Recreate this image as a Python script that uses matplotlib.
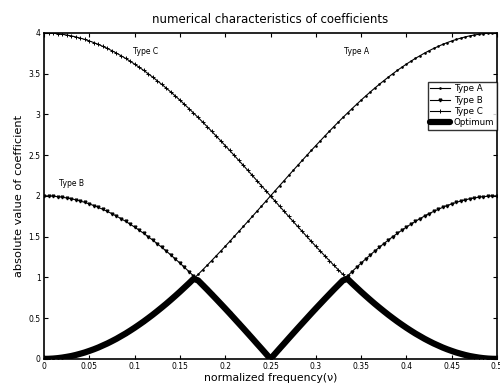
import matplotlib
matplotlib.use("Agg")
import matplotlib.pyplot as plt

# normalized frequency, step 0.005
freq = [i * 0.005 for i in range(101)]

type_a = [0.000, 0.001, 0.004, 0.009, 0.016, 0.025, 0.035, 0.048, 0.063, 0.079,
          0.098, 0.118, 0.140, 0.165, 0.190, 0.218, 0.247, 0.279, 0.311, 0.346,
          0.382, 0.420, 0.459, 0.500, 0.542, 0.586, 0.631, 0.677, 0.725, 0.774,
          0.824, 0.876, 0.928, 0.982, 1.036, 1.092, 1.148, 1.206, 1.264, 1.323,
          1.382, 1.442, 1.503, 1.564, 1.625, 1.687, 1.749, 1.812, 1.874, 1.937,
          2.000, 2.063, 2.126, 2.188, 2.251, 2.313, 2.375, 2.436, 2.497, 2.558,
          2.618, 2.677, 2.736, 2.794, 2.852, 2.908, 2.964, 3.018, 3.072, 3.124,
          3.176, 3.226, 3.275, 3.323, 3.369, 3.414, 3.458, 3.500, 3.541, 3.580,
          3.618, 3.654, 3.689, 3.721, 3.753, 3.782, 3.810, 3.835, 3.860, 3.882,
          3.902, 3.921, 3.937, 3.952, 3.965, 3.975, 3.984, 3.991, 3.996, 3.999,
          4.000]

type_b = [2.000, 1.999, 1.996, 1.991, 1.984, 1.975, 1.965, 1.952, 1.937, 1.921,
          1.902, 1.882, 1.860, 1.835, 1.810, 1.782, 1.753, 1.721, 1.689, 1.654,
          1.618, 1.580, 1.541, 1.500, 1.458, 1.414, 1.369, 1.323, 1.275, 1.226,
          1.176, 1.124, 1.072, 1.018, 0.964, 0.908, 0.852, 0.794, 0.736, 0.677,
          0.618, 0.558, 0.497, 0.436, 0.375, 0.313, 0.251, 0.188, 0.126, 0.063,
          0.000, 0.063, 0.126, 0.188, 0.251, 0.313, 0.375, 0.436, 0.497, 0.558,
          0.618, 0.677, 0.736, 0.794, 0.852, 0.908, 0.964, 1.018, 1.072, 1.124,
          1.176, 1.226, 1.275, 1.323, 1.369, 1.414, 1.458, 1.500, 1.541, 1.580,
          1.618, 1.654, 1.689, 1.721, 1.753, 1.782, 1.810, 1.835, 1.860, 1.882,
          1.902, 1.921, 1.937, 1.952, 1.965, 1.975, 1.984, 1.991, 1.996, 1.999,
          2.000]

type_c = [4.000, 3.999, 3.996, 3.991, 3.984, 3.975, 3.965, 3.952, 3.937, 3.921,
          3.902, 3.882, 3.860, 3.835, 3.810, 3.782, 3.753, 3.721, 3.689, 3.654,
          3.618, 3.580, 3.541, 3.500, 3.458, 3.414, 3.369, 3.323, 3.275, 3.226,
          3.176, 3.124, 3.072, 3.018, 2.964, 2.908, 2.852, 2.794, 2.736, 2.677,
          2.618, 2.558, 2.497, 2.436, 2.375, 2.313, 2.251, 2.188, 2.126, 2.063,
          2.000, 1.937, 1.874, 1.812, 1.749, 1.687, 1.625, 1.564, 1.503, 1.442,
          1.382, 1.323, 1.264, 1.206, 1.148, 1.092, 1.036, 0.982, 0.928, 0.876,
          0.824, 0.774, 0.725, 0.677, 0.631, 0.586, 0.542, 0.500, 0.459, 0.420,
          0.382, 0.346, 0.311, 0.279, 0.247, 0.218, 0.190, 0.165, 0.140, 0.118,
          0.098, 0.079, 0.063, 0.048, 0.035, 0.025, 0.016, 0.009, 0.004, 0.001,
          0.000]

optimum = [0.000, 0.001, 0.004, 0.009, 0.016, 0.025, 0.035, 0.048, 0.063, 0.079,
           0.098, 0.118, 0.140, 0.165, 0.190, 0.218, 0.247, 0.279, 0.311, 0.346,
           0.382, 0.420, 0.459, 0.500, 0.542, 0.586, 0.631, 0.677, 0.725, 0.774,
           0.824, 0.876, 0.928, 0.982, 0.964, 0.908, 0.852, 0.794, 0.736, 0.677,
           0.618, 0.558, 0.497, 0.436, 0.375, 0.313, 0.251, 0.188, 0.126, 0.063,
           0.000, 0.063, 0.126, 0.188, 0.251, 0.313, 0.375, 0.436, 0.497, 0.558,
           0.618, 0.677, 0.736, 0.794, 0.852, 0.908, 0.964, 0.982, 0.928, 0.876,
           0.824, 0.774, 0.725, 0.677, 0.631, 0.586, 0.542, 0.500, 0.459, 0.420,
           0.382, 0.346, 0.311, 0.279, 0.247, 0.218, 0.190, 0.165, 0.140, 0.118,
           0.098, 0.079, 0.063, 0.048, 0.035, 0.025, 0.016, 0.009, 0.004, 0.001,
           0.000]

xticks = [0, 0.05, 0.1, 0.15, 0.2, 0.25, 0.3, 0.35, 0.4, 0.45, 0.5]
xtick_labels = ["0", "0.05", "0.1", "0.15", "0.2", "0.25", "0.3", "0.35", "0.4", "0.45", "0.5"]
yticks = [0, 0.5, 1, 1.5, 2, 2.5, 3, 3.5, 4]
ytick_labels = ["0", "0.5", "1", "1.5", "2", "2.5", "3", "3.5", "4"]

plt.rcParams['font.family'] = ['DejaVu Sans']

fig = plt.figure(figsize=(5, 3.88), dpi=100)
ax = fig.add_axes([0.088, 0.075, 0.906, 0.84])

ax.plot(freq, type_a, color="black", lw=0.8, marker=".", ms=1.8, label="Type A")
ax.plot(freq, type_b, color="black", lw=0.8, marker="v", ms=2, label="Type B")
ax.plot(freq, type_c, color="black", lw=0.8, marker="+", ms=3.5, mew=0.7, label="Type C")
ax.plot(freq, optimum, color="black", lw=4.5, solid_capstyle="round", label="Optimum")

ax.text(0.098, 3.77, "Type C", fontsize=5.5, va="center")
ax.text(0.331, 3.77, "Type A", fontsize=5.5, va="center")
ax.text(0.0166, 2.15, "Type B", fontsize=5.5, va="center")

ax.set_xlim(0, 0.5)
ax.set_ylim(0, 4)
ax.set_xticks(xticks)
ax.set_xticklabels(xtick_labels)
ax.set_yticks(yticks)
ax.set_yticklabels(ytick_labels)
ax.tick_params(direction="in", length=3, width=0.8, labelsize=5.5, top=True, right=True, pad=2.5)
for s in ax.spines.values():
    s.set_linewidth(1.2)

ax.set_title("numerical characteristics of coefficients", fontsize=8.5, pad=7)
ax.set_xlabel("normalized frequency(ν)", fontsize=7.8, labelpad=1)
ax.set_ylabel("absolute value of coefficient", fontsize=8.2, labelpad=3)

leg = ax.legend(loc="upper right", bbox_to_anchor=(1.0, 0.85), fontsize=6.3, frameon=True,
                fancybox=False, edgecolor="black", handlelength=2.3, borderpad=0.3,
                labelspacing=0.25, handletextpad=0.4, borderaxespad=0)
leg.get_frame().set_linewidth(1.0)

fig.savefig("out.png", dpi=100)
